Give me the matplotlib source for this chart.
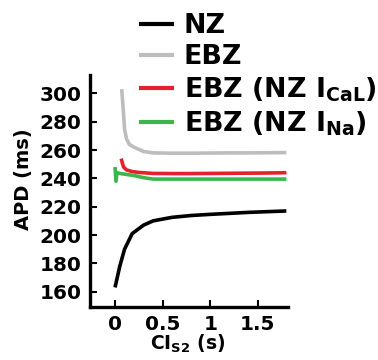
import matplotlib
matplotlib.use("Agg")
import matplotlib.pyplot as plt

plt.rcParams['font.family'] = ['DejaVu Sans']
plt.rcParams['font.weight'] = 'bold'
plt.rcParams['mathtext.fontset'] = 'dejavusans'
plt.rcParams['mathtext.default'] = 'bf'

# Data (CI_S2 in s, APD in ms)
nz_x = [0.0, 0.05, 0.1, 0.18, 0.3, 0.4, 0.6, 0.8, 1.0, 1.2, 1.4, 1.6, 1.8]
nz_y = [163, 178, 190, 201, 207, 210, 212.5, 213.8, 214.6, 215.3, 216.0, 216.5, 217.0]

ebz_x = [0.07, 0.09, 0.10, 0.12, 0.15, 0.2, 0.3, 0.4, 0.6, 0.8, 1.0, 1.2, 1.4, 1.6, 1.8]
ebz_y = [303, 285, 275, 268, 264, 262, 259, 258, 257.8, 257.8, 257.9, 258, 258, 258.1, 258.2]

cal_x = [0.065, 0.08, 0.09, 0.12, 0.18, 0.25, 0.4, 0.6, 0.8, 1.0, 1.2, 1.4, 1.6, 1.8]
cal_y = [254, 250, 248, 246, 244.8, 244.2, 243.5, 243.4, 243.4, 243.5, 243.6, 243.7, 243.8, 244]

na_x = [0.0, 0.01, 0.02, 0.05, 0.1, 0.2, 0.3, 0.4, 0.6, 0.8, 1.0, 1.2, 1.4, 1.6, 1.8]
na_y = [248, 238, 244, 243.5, 243, 242, 240.5, 239.5, 239.5, 239.5, 239.5, 239.5, 239.5, 239.5, 239.5]

labels = ['NZ', 'EBZ', r'EBZ (NZ I$_{\mathbf{CaL}}$)', r'EBZ (NZ I$_{\mathbf{Na}}$)']
colors = ['#000000', '#bdbdbd', '#e3202b', '#3db54a']

xticks = [0, 0.5, 1, 1.5]
xticklabels = ['0', '0.5', '1', '1.5']
yticks = [160, 180, 200, 220, 240, 260, 280, 300]

fig = plt.figure(figsize=(3.78, 3.60), dpi=100)
ax = fig.add_axes([90/378, 1 - 306.7/360, 198/378, (306.7 - 75)/360])

series = [(nz_x, nz_y), (ebz_x, ebz_y), (cal_x, cal_y), (na_x, na_y)]
handles = []
for (xs, ys), c, lab in zip(series, colors, labels):
    h, = ax.plot(xs, ys, color=c, lw=2.6, label=lab, solid_capstyle='butt')
    handles.append(h)

ax.set_xlim(-0.263, 1.817)
ax.set_ylim(149.4, 313)
ax.set_xticks(xticks)
ax.set_xticklabels(xticklabels)
ax.set_yticks(yticks)
for s in ['top', 'right']:
    ax.spines[s].set_visible(False)
for s in ['left', 'bottom']:
    ax.spines[s].set_linewidth(2.4)
ax.tick_params(direction='in', length=5, width=1.5, labelsize=14.4, pad=6)
for lab in ax.get_xticklabels() + ax.get_yticklabels():
    lab.set_fontweight('bold')

fig.text(24/378, 1 - 179/360, 'APD (ms)', rotation=90, ha='center', va='center',
         fontsize=14, fontweight='bold')
fig.text(188/378, 1 - 344/360, r'CI$_{\mathbf{S2}}$ (s)', ha='center', va='center',
         fontsize=13.5, fontweight='bold')

leg = fig.legend(handles=handles, loc='upper left', bbox_to_anchor=(139/378, 1 - 13/360),
                 frameon=False, fontsize=19.4, handlelength=1.3, handletextpad=0.37,
                 labelspacing=0.2, borderpad=0, borderaxespad=0)
for t in leg.get_texts():
    t.set_fontweight('bold')
for l in leg.get_lines():
    l.set_linewidth(3)

fig.savefig('out.png', dpi=100)
